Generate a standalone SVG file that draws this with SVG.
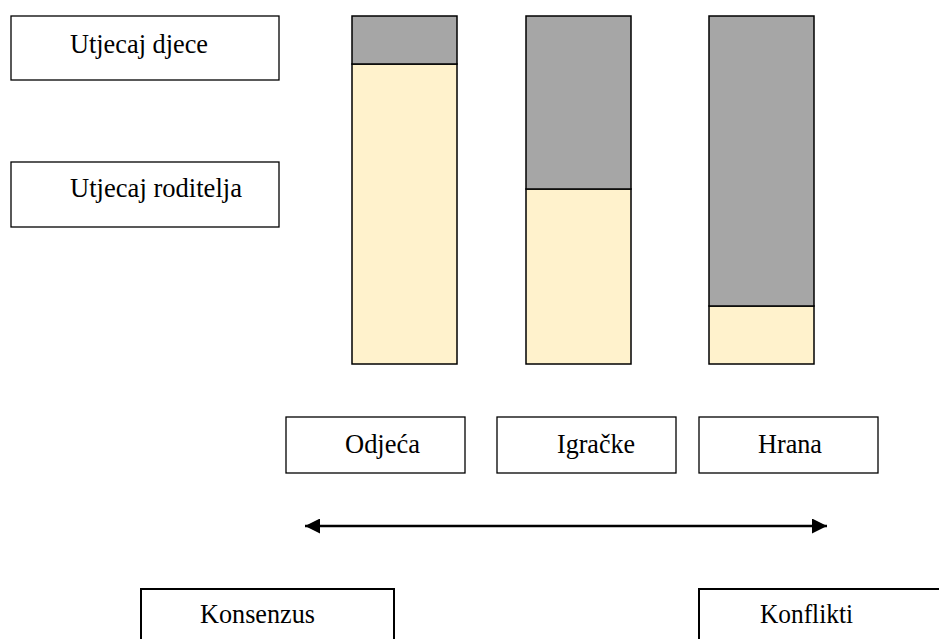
<svg xmlns="http://www.w3.org/2000/svg" width="939" height="639" viewBox="0 0 939 639">
<style>
.box{fill:#fff;stroke:#000;stroke-width:1.3}
.boxb{fill:#fff;stroke:#000;stroke-width:2}
.grey{fill:#a6a6a6;stroke:#000;stroke-width:1.5}
.cream{fill:#fff2cc;stroke:#000;stroke-width:1.5}
.t{font-family:'Liberation Serif','DejaVu Serif',serif;font-size:28px;fill:#000}
.conn{stroke:#000;stroke-width:2.5;fill:none}
</style>
<defs>
<marker id="ah" viewBox="0 0 15 15" refX="15" refY="7.5" markerWidth="15" markerHeight="15" markerUnits="userSpaceOnUse" orient="auto-start-reverse">
<path d="M0,0 L15,7.5 L0,15 Z" fill="#000"/>
</marker>
</defs>
<g id="legend-djece"><rect class="box" x="11" y="16" width="268" height="64"/><text class="t" font-family="Liberation Serif, serif" x="70" y="53" textLength="138" lengthAdjust="spacingAndGlyphs">Utjecaj djece</text></g>
<g id="legend-roditelja"><rect class="box" x="11" y="162" width="268" height="65"/><text class="t" font-family="Liberation Serif, serif" x="70" y="197" textLength="172" lengthAdjust="spacingAndGlyphs">Utjecaj roditelja</text></g>
<g id="bar-odjeca"><rect class="cream" x="352" y="64" width="105" height="300"/><rect class="grey" x="352" y="16" width="105" height="48"/></g>
<g id="bar-igracke"><rect class="cream" x="526" y="189" width="105" height="175"/><rect class="grey" x="526" y="16" width="105" height="173"/></g>
<g id="bar-hrana"><rect class="cream" x="709" y="306" width="105" height="58"/><rect class="grey" x="709" y="16" width="105" height="290"/></g>
<g id="cat-odjeca"><rect class="box" x="286" y="417" width="179" height="56"/><text class="t" font-family="Liberation Serif, serif" x="345" y="453" textLength="75" lengthAdjust="spacingAndGlyphs">Odjeća</text></g>
<g id="cat-igracke"><rect class="box" x="497" y="417" width="179" height="56"/><text class="t" font-family="Liberation Serif, serif" x="557" y="453" textLength="78" lengthAdjust="spacingAndGlyphs">Igračke</text></g>
<g id="cat-hrana"><rect class="box" x="699" y="417" width="179" height="56"/><text class="t" font-family="Liberation Serif, serif" x="758" y="453" textLength="64" lengthAdjust="spacingAndGlyphs">Hrana</text></g>
<g id="connectors"><line class="conn" x1="305" y1="526" x2="827" y2="526" marker-start="url(#ah)" marker-end="url(#ah)"/></g>
<g id="konsenzus"><rect class="boxb" x="141" y="589" width="253" height="70"/><text class="t" font-family="Liberation Serif, serif" x="200" y="623" textLength="115" lengthAdjust="spacingAndGlyphs">Konsenzus</text></g>
<g id="konflikti"><rect class="boxb" x="699" y="589" width="260" height="70"/><text class="t" font-family="Liberation Serif, serif" x="760" y="623" textLength="93" lengthAdjust="spacingAndGlyphs">Konflikti</text></g>
</svg>
